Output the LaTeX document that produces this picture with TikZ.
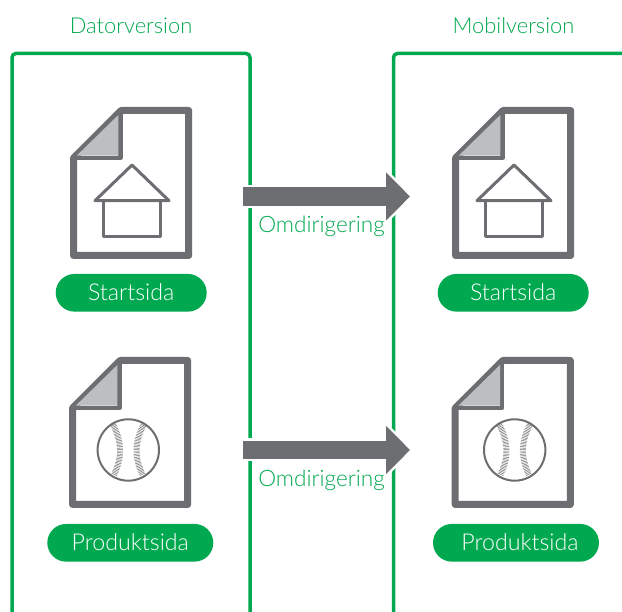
\documentclass[tikz,border=0pt]{standalone}
\usepackage{fontspec}
\setmainfont{Lato}[UprightFont=* Light]
\usetikzlibrary{arrows.meta,shapes.misc,decorations.pathreplacing}
\definecolor{brandgreen}{HTML}{00A94F}
\definecolor{docgrey}{HTML}{6D6E71}
\definecolor{foldgrey}{HTML}{BCBEC0}
\tikzset{
  frameline/.style={draw=brandgreen,line width=3.5pt,rounded corners=4pt},
  heading/.style={text=brandgreen,font=\fontsize{21.9}{24}\selectfont,inner sep=0pt,anchor=base},
  redirlabel/.style={text=brandgreen,font=\fontsize{22.6}{24}\selectfont,inner sep=0pt,anchor=base},
  pill/.style={rounded rectangle,fill=brandgreen,text=white,font=\fontsize{23.2}{24}\selectfont,minimum height=37.7pt,inner sep=0pt,anchor=center,text height=16pt,text depth=0pt},
  docsheet/.style={draw=docgrey,fill=white,line width=7pt,line join=round},
  docfoldline/.style={draw=docgrey,line width=4.4pt,line join=round},
  iconline/.style={draw=docgrey,line width=3pt,line join=round},
  ballline/.style={draw=docgrey,line width=2pt},
  stitch/.style={draw=docgrey,line width=.5pt,decorate,decoration={ticks,segment length=1.5pt,amplitude=3pt}},
  redirarrow/.style={draw=docgrey,line width=18.4pt,-{Triangle[length=24pt,width=47pt,fill=docgrey]}},
  redirhalo/.style={draw=white,line width=23pt,-{Triangle[length=27pt,width=54pt,fill=white]}},
  pics/docsheetpic/.style={code={
    \path[docsheet] (47.6,0) -- (115.2,0) -- (115.2,#1) -- (0,#1) -- (0,47.6) -- cycle;
    \path[docfoldline] (47,0) -- (47,47.4) -- (0,47.4);
    \fill[foldgrey] (44.8,4.5) -- (44.8,45.2) -- (3.2,45.2) -- cycle;
  }},
  pics/houseicon/.style={code={
    \path[iconline] (-28.5,35.7) rectangle (28.5,0);
    \path[iconline,fill=white] (0,-35.7) -- (37,0) -- (-37,0) -- cycle;
  }},
  pics/ballicon/.style={code={
    \path[ballline] (0,0) circle (30.7);
    \path[stitch] (-15.6,-26) .. controls (-6,-8) and (-6,8) .. (-14.4,25);
    \path[stitch] (15.6,-26) .. controls (6,-8) and (6,8) .. (14.4,25);
  }}
}
\begin{document}
\begin{tikzpicture}[x=1pt,y=-1pt]
\useasboundingbox (0,0) rectangle (622,612);
\clip (0,0) rectangle (622,612);
\fill[white] (0,0) rectangle (622,612);
% frames
\draw[frameline] (12,625) -- (12,53.5) -- (250,53.5) -- (250,625);
\draw[frameline] (393.5,625) -- (393.5,53.5) -- (640,53.5);
% headings
\node[heading] (hdesk) at (131,33.7) {Datorversion};
\node[heading] (hmob) at (513.5,33.7) {Mobilversion};
% documents
\pic at (73.5,110.5) {docsheetpic={145}};
\pic at (455.5,110.5) {docsheetpic={145}};
\pic at (72.5,360.5) {docsheetpic={144}};
\pic at (455.2,360.5) {docsheetpic={144}};
% icons
\pic at (132,200.7) {houseicon};
\pic at (514,200.7) {houseicon};
\pic at (128.3,450) {ballicon};
\pic at (514.7,450) {ballicon};
% pills
\node[pill,minimum width=151pt] (p1) at (131.2,292.8) {Startsida};
\node[pill,minimum width=151pt] (p2) at (513.2,292.8) {Startsida};
\node[pill,minimum width=166pt] (p3) at (130.3,542.8) {Produktsida};
\node[pill,minimum width=166pt] (p4) at (516,542.8) {\hspace{8pt}Produktsida};
% arrows
\coordinate (a1s) at (242.7,196.5);
\coordinate (a1e) at (410,196.5);
\coordinate (a2s) at (242.7,450);
\coordinate (a2e) at (410,450);
\draw[redirhalo] (a1s) -- ([xshift=3pt]a1e);
\draw[redirhalo] (a2s) -- ([xshift=3pt]a2e);
\draw[redirarrow] (a1s) -- (a1e);
\draw[redirarrow] (a2s) -- (a2e);
% labels
\node[redirlabel] (l1) at (321.5,232.5) {Omdirigering};
\node[redirlabel] (l2) at (321.5,487) {Omdirigering};
\end{tikzpicture}
\end{document}
